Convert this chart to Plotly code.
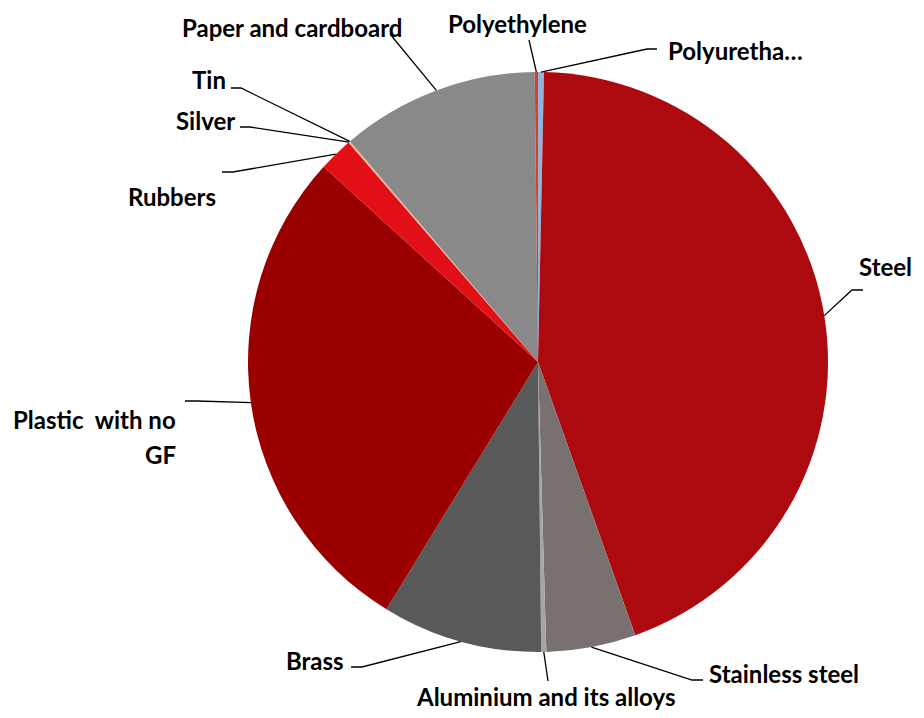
import math
import plotly.graph_objects as go

# ---- data (clockwise from 12 o'clock) ----
labels = ["Polyurethane", "Steel", "Stainless steel", "Aluminium and its alloys", "Brass",
          "Plastic  with no GF", "Rubbers", "Silver", "Tin", "Paper and cardboard", "Polyethylene"]
values = [0.33, 44.06, 4.97, 0.28, 8.9, 27.9, 1.9, 0.06, 0.05, 11.0, 0.18]
colors = ["#95B3D7", "#AD0A10", "#78716F", "#A6A6A6", "#595959",
          "#9A0000", "#E30F16", "#F4B183", "#D9A08A", "#898989", "#D0452A"]
display_text = ["Polyuretha…", "Steel", "Stainless steel", "Aluminium and its alloys", "Brass",
                "Plastic  with no<br>GF", "Rubbers", "Silver", "Tin", "Paper and cardboard", "Polyethylene"]

# page has an 8px body margin on every side; keep the figure inside the window
OFF = 8
W, H = 924 - 2 * OFF, 718 - 2 * OFF
CX, CY, R = 538, 362, 290  # pie centre/radius in window pixels (layout)

# label layout: (elbow, end, text position, xanchor)  in window pixels
label_layout = {
    "Polyurethane": ((647, 49), (657, 49), (666, 50), "left"),
    "Steel": ((852, 290), (863, 290), (914, 267), "right"),
    "Stainless steel": ((692, 680), (703, 680), (707, 673), "left"),
    "Aluminium and its alloys": ((548, 681), (548, 681), (545, 696), "center"),
    "Brass": ((362, 667), (351, 667), (346, 660), "right"),
    "Plastic  with no GF": ((197, 401), (185, 401), (178, 419), "right"),
    "Rubbers": ((233, 172), (222, 172), (218, 196), "right"),
    "Silver": ((250, 127), (240, 127), (237, 120), "right"),
    "Tin": ((241, 88), (231, 88), (228, 80), "right"),
    "Paper and cardboard": ((390, 34), (390, 34), (292, 27), "center"),
    "Polyethylene": ((529, 40), (529, 40), (517, 23), "center"),
}
LINE_GAP = 36
FONT = dict(family="Lato", size=24, color="#000000", weight=700)


def px(x):
    return (x - OFF) / W


def py(y):
    return 1 - (y - OFF) / H


fig = go.Figure(go.Pie(
    labels=labels, values=values, sort=False, direction="clockwise", rotation=0,
    marker=dict(colors=colors, line=dict(width=0)),
    textinfo="none", hoverinfo="label+percent", showlegend=False,
    domain=dict(x=[px(CX - R), px(CX + R)], y=[py(CY + R), py(CY - R)]),
))

total = sum(values)
cum = 0.0
shapes = []
annotations = []
for lab, val, txt in zip(labels, values, display_text):
    mid = (cum + val / 2) / total * 2 * math.pi
    cum += val
    sx = CX + R * math.sin(mid)
    sy = CY - R * math.cos(mid)
    (ex, ey), (hx, hy), (tx, ty), anchor = label_layout[lab]
    path = f"M {px(sx)},{py(sy)} L {px(ex)},{py(ey)} L {px(hx)},{py(hy)}"
    shapes.append(dict(type="path", xref="paper", yref="paper", path=path,
                       line=dict(color="black", width=1.3)))
    for i, part in enumerate(txt.split("<br>")):
        annotations.append(dict(x=px(tx), y=py(ty + i * LINE_GAP), xref="paper", yref="paper",
                                text=part, showarrow=False, xanchor=anchor, yanchor="middle",
                                font=FONT))

fig.update_layout(
    width=W, height=H, margin=dict(l=0, r=0, t=0, b=0),
    paper_bgcolor="white", plot_bgcolor="white",
    shapes=shapes, annotations=annotations,
)
fig.write_html("out.html")
